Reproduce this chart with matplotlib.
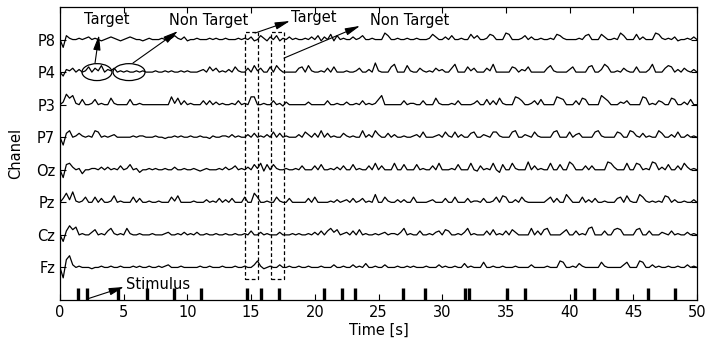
import matplotlib
matplotlib.use('Agg')
import matplotlib.pyplot as plt
import numpy as np
from matplotlib.patches import Ellipse, Rectangle

plt.rcParams['font.family'] = ['DejaVu Sans']

# channel names, bottom to top
channels = ['Fz', 'Cz', 'Pz', 'Oz', 'P7', 'P3', 'P4', 'P8']

P8 = [0,-6,3,1,0,0,1,0,1,2,0,1,0,-1,0,1,2,1,0,-1,
      0,1,2,1,0,0,-1,0,1,0,0,0,1,0,0,1,3,1,0,2,
      -1,0,0,1,0,0,0,1,0,1,0,0,1,0,0,0,1,0,1,0,
      2,-1,0,3,1,-1,2,0,3,-1,1,0,2,0,1,0,0,1,0,2,
      0,3,-1,2,0,4,-1,3,0,1,0,0,2,0,1,3,0,0,1,0,
      0,0,5,3,0,0,1,0,0,1,0,0,1,0,0,0,1,4,2,0,
      0,2,0,3,0,0,1,0,0,4,1,3,0,0,1,4,3,0,0,0,
      5,4,0,0,0,1,3,0,2,0,0,1,0,0,1,0,4,3,1,0,
      0,0,0,1,0,3,4,0,0,0,4,2,0,0,1,0,5,3,0,0,
      0,4,0,2,0,0,0,5,4,1,0,1,0,2,-1,0,0,1,0,2,0]
P4 = [0,-3,2,1,3,0,2,0,1,4,0,3,1,5,0,2,1,3,0,1,
      0,1,0,0,1,0,1,0,0,0,1,0,0,1,0,1,0,0,1,0,
      1,0,0,0,1,2,0,4,1,3,0,1,0,2,0,4,1,0,0,3,
      0,5,1,3,0,0,4,0,5,2,0,0,0,0,0,3,4,0,5,1,
      0,0,1,0,3,0,4,0,0,0,1,0,0,1,3,0,0,2,0,7,
      1,0,0,0,4,6,0,0,0,5,1,0,0,3,1,0,1,0,3,1,
      2,0,0,3,6,0,0,0,4,1,3,0,0,0,3,1,6,0,0,0,
      0,0,4,3,0,2,1,4,0,0,0,0,0,3,5,1,0,0,0,0,
      2,4,0,0,0,0,4,5,0,0,2,6,4,0,0,1,0,3,1,0,
      0,4,0,0,0,2,6,0,0,0,3,5,4,0,2,0,3,1,0,2,0]
P3 = [0,2,8,5,7,1,0,4,0,0,1,4,0,1,0,0,5,1,0,0,
      0,0,4,0,0,1,0,0,0,0,0,0,0,0,0,6,1,5,0,3,
      0,1,0,0,0,3,0,3,0,2,0,1,0,0,1,0,3,0,1,0,
      6,6,0,0,1,0,0,3,0,1,-1,2,0,0,0,0,0,0,2,0,
      0,0,0,0,3,0,0,1,0,0,2,0,0,1,0,3,0,1,0,1,
      4,7,0,0,0,0,0,0,3,0,1,1,0,0,3,0,0,0,5,1,
      0,0,0,1,0,3,0,0,0,0,1,3,0,0,4,0,3,0,5,1,
      0,0,0,6,5,3,0,0,1,3,0,4,0,0,0,0,6,5,4,0,
      0,0,3,0,5,4,0,0,0,0,7,5,3,0,0,0,2,1,3,0,
      0,0,0,6,5,0,1,0,3,2,0,0,5,4,0,0,2,0,4,0,0]
P7 = [0,-6,3,5,0,1,3,1,0,1,0,5,4,0,1,0,1,2,0,0,
      0,0,0,1,0,1,1,0,0,0,1,0,0,-1,0,0,1,0,1,0,
      0,1,0,0,1,0,0,-1,1,0,0,1,1,0,2,0,1,0,0,2,
      0,3,0,1,0,2,0,4,0,3,0,1,0,0,0,2,0,4,2,0,
      3,0,5,0,3,0,1,0,0,3,1,0,1,0,0,5,0,2,0,5,
      2,0,0,3,0,2,0,0,1,0,0,1,2,0,4,0,0,0,1,2,
      0,4,1,0,4,0,2,0,0,3,4,0,0,2,1,0,4,4,1,0,
      0,0,4,5,0,0,2,1,0,4,1,0,0,0,0,4,5,0,0,0,
      4,0,2,3,0,0,0,0,4,5,1,0,0,0,0,4,3,0,0,5,
      4,1,0,3,0,1,0,0,5,3,0,0,2,0,4,0,0,2,0,1,0]
Oz = [0,-6,4,5,2,0,1,-3,0,0,1,1,0,2,0,2,0,1,0,3,
      0,1,4,0,1,-2,0,0,1,0,1,0,0,1,0,0,2,0,0,1,
      0,0,1,0,-1,0,1,0,0,0,1,0,2,0,1,3,0,1,0,2,
      0,4,1,5,-1,4,0,4,1,0,0,1,0,0,1,0,3,0,0,0,
      3,0,4,0,0,1,0,2,0,3,0,0,4,0,1,0,0,3,0,5,
      0,3,0,0,0,5,0,0,4,0,0,0,4,0,1,0,0,3,0,5,
      0,0,0,1,0,4,0,0,0,5,0,-1,3,0,1,0,5,0,-2,4,
      0,0,5,1,0,0,0,6,0,3,0,1,0,0,5,0,0,4,0,0,
      6,4,0,0,0,3,0,3,0,0,0,0,6,5,2,0,0,0,5,0,
      0,5,4,0,1,0,6,5,0,2,0,4,0,0,3,0,5,2,0,1,0]
Pz = [0,3,7,2,8,1,0,1,4,0,0,4,0,3,0,0,1,5,0,1,
      0,0,0,4,0,3,0,0,1,0,0,1,0,0,0,4,1,5,0,0,
      0,0,1,0,0,0,2,0,1,0,3,0,2,0,3,0,0,0,4,0,
      0,7,4,0,0,1,0,0,4,1,0,0,3,0,0,0,0,0,3,0,
      4,0,0,0,0,1,0,2,0,1,2,0,3,0,1,3,0,1,0,6,
      0,0,4,1,0,0,2,0,2,0,0,4,0,0,0,0,1,2,0,0,
      0,3,0,0,4,0,0,0,3,0,1,1,0,3,0,0,1,4,0,5,
      4,0,0,2,0,4,1,0,0,0,0,0,0,2,4,0,3,0,0,6,
      3,0,0,0,4,0,2,0,3,0,0,1,0,0,0,3,4,0,5,1,
      0,0,6,4,1,0,1,0,1,0,5,4,0,2,0,0,1,0,0,2,0]
Cz = [0,-5,3,7,4,6,0,1,0,0,2,4,0,1,0,3,5,1,0,1,
      0,5,1,0,0,1,0,0,0,1,0,0,0,1,2,0,0,1,0,2,
      0,1,0,2,0,0,1,0,0,1,0,0,1,0,0,1,0,0,1,0,
      3,0,0,2,0,1,0,0,0,2,0,0,0,1,0,1,0,0,1,0,
      2,0,3,0,3,5,2,4,0,1,2,0,3,0,4,0,1,0,0,1,
      0,1,2,0,1,1,0,2,5,0,1,0,0,3,0,0,1,0,2,3,
      0,4,3,0,0,1,0,2,5,0,1,0,0,0,3,0,4,0,1,0,
      3,0,4,2,0,0,0,0,5,0,3,0,4,5,0,0,0,0,2,4,
      0,0,3,0,1,0,5,6,0,0,0,3,0,0,4,5,4,0,0,0,
      0,4,5,0,0,3,0,0,0,2,1,0,3,0,1,0,0,2,0,1,0]
Fz = [0,-8,6,9,2,0,1,0,0,0,-1,0,0,1,0,0,1,0,0,1,
      0,0,0,1,0,1,0,0,1,0,0,1,0,1,2,0,0,0,1,0,
      0,0,0,0,1,0,0,1,0,0,0,1,0,0,0,1,0,0,1,0,
      0,2,5,1,-1,0,1,0,0,2,0,0,1,0,0,1,0,0,1,0,
      0,0,1,0,0,0,2,0,0,1,0,0,2,0,1,0,3,0,0,1,
      0,0,2,0,0,0,1,0,0,1,0,1,0,0,0,1,0,0,0,2,
      0,1,0,0,1,0,0,3,0,1,0,0,0,4,0,0,1,0,0,1,
      0,0,0,1,0,0,0,0,2,0,0,0,0,1,0,0,0,5,4,0,
      0,1,0,3,1,0,0,0,0,0,4,1,0,0,0,0,0,2,4,0,
      0,0,5,4,0,0,2,0,1,0,0,1,0,0,1,0,0,2,0,1,0]

signals = [Fz, Cz, Pz, Oz, P7, P3, P4, P8]
t = np.arange(len(P8)) * 0.25

# stimulus onsets [s]
stimulus = [1.44, 2.14, 4.58, 6.8, 8.97, 11.07, 14.7, 15.78, 17.2, 20.75,
            22.16, 23.15, 26.92, 28.65, 31.79, 32.1, 35.06, 36.5, 40.42,
            41.92, 43.74, 46.18, 48.27]

# target / non-target windows [s]
windows = [(14.52, 15.54), (16.56, 17.58)]

fig = plt.figure(figsize=(7.14, 3.44), dpi=100)
ax = fig.add_axes([60/714, 44/344, 637/714, 293/344])

scale = 25.0  # pixels per channel unit, slightly exaggerated like the original
for i, s in enumerate(signals):
    ax.plot(t, i + 1 + np.array(s) / scale, color='black', lw=0.9)

ax.vlines(stimulus, 0, 0.36, color='black', lw=2.4)

for a, b in windows:
    ax.add_patch(Rectangle((a, 0.645), b - a, 8.23 - 0.645, fill=False,
                           ls=(0, (3, 2)), lw=0.9, ec='black'))

ax.add_patch(Ellipse((2.90, 7.0), 2.35, 0.52, fill=False, lw=0.9))
ax.add_patch(Ellipse((5.42, 7.0), 2.51, 0.52, fill=False, lw=0.9))

arrow = dict(arrowstyle='-|>,head_length=0.9,head_width=0.22', color='black',
             lw=0.8, mutation_scale=10, shrinkA=0, shrinkB=0)
ax.annotate('', xy=(3.06, 8.14), xytext=(2.75, 7.28), arrowprops=arrow)
ax.annotate('', xy=(9.26, 8.26), xytext=(5.73, 7.28), arrowprops=arrow)
ax.annotate('', xy=(18.05, 8.57), xytext=(15.31, 8.2), arrowprops=arrow)
ax.annotate('', xy=(23.55, 8.42), xytext=(17.58, 7.43), arrowprops=arrow)
ax.annotate('', xy=(5.02, 0.40), xytext=(2.12, 0.03), arrowprops=arrow)

fs = 10.5
ax.text(3.69, 8.63, 'Target', ha='center', va='center', fontsize=fs)
ax.text(11.7, 8.6, 'Non Target', ha='center', va='center', fontsize=fs)
ax.text(19.94, 8.69, 'Target', ha='center', va='center', fontsize=fs)
ax.text(27.47, 8.6, 'Non Target', ha='center', va='center', fontsize=fs)
ax.text(7.69, 0.49, 'Stimulus', ha='center', va='center', fontsize=fs)

ax.set_xlim(0, 50)
ax.set_ylim(0, 9)
ax.set_xticks(range(0, 51, 5))
ax.set_yticks(range(1, 9))
ax.set_yticklabels(channels)
ax.tick_params(direction='in', top=True, right=True, labelsize=fs, length=4)
for sp in ax.spines.values():
    sp.set_linewidth(0.9)
ax.set_xlabel('Time [s]', fontsize=fs, labelpad=2)
ax.set_ylabel('Chanel', fontsize=fs)
ax.yaxis.set_label_coords(-0.058, 0.5)

fig.savefig('out.png', dpi=100)
